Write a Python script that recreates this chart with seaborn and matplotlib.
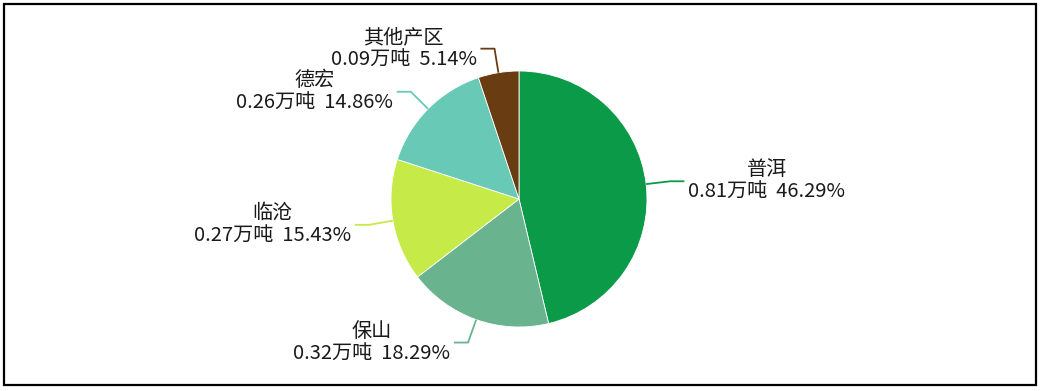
import numpy as np
import matplotlib
matplotlib.use("Agg")
import matplotlib.pyplot as plt
import seaborn as sns
from matplotlib.patches import Rectangle

sns.set_theme(style="white")
plt.rcParams['font.family'] = ['Noto Sans CJK SC', 'DejaVu Sans']

regions = ["普洱", "保山", "临沧", "德宏", "其他产区"]
tons = [0.81, 0.32, 0.27, 0.26, 0.09]          # 万吨
shares = [46.29, 18.29, 15.43, 14.86, 5.14]    # %
colors = ["#0a9a48", "#6ab38f", "#c6ea48", "#67c9b6", "#6a3c12"]

W, H = 1041, 391
fig = plt.figure(figsize=(W / 100, H / 100), dpi=100)
ax = fig.add_axes([0, 0, 1, 1])

# pie centre at pixel (519,199) with radius 128 px
R = 128.0
cx, cy = 519, 199

wedges, _ = ax.pie(shares, colors=colors, startangle=90, counterclock=False,
                   radius=1.0, center=(0, 0), frame=True,
                   wedgeprops=dict(linewidth=0.6, edgecolor='white'))
ax.set_xlim(-cx / R, (W - cx) / R)
ax.set_ylim(-(H - cy) / R, cy / R)
ax.set_aspect('equal')
ax.axis('off')

for w, name, t, s, c in zip(wedges, regions, tons, shares, colors):
    ang = np.deg2rad((w.theta1 + w.theta2) / 2)
    x0, y0 = np.cos(ang), np.sin(ang)
    x1, y1 = 1.19 * x0, 1.19 * y0
    side = 1 if x0 >= 0 else -1
    x2 = x1 + side * 0.11
    ax.plot([x0, x1, x2], [y0, y1, y1], color=c, lw=1.3, solid_capstyle='butt')
    ax.text(x2 + side * 0.03, y1, f"{name}\n{t:.2f}万吨  {s:.2f}%",
            ha='left' if side > 0 else 'right', va='center',
            multialignment='center', fontsize=14.5, color='#1a1a1a',
            linespacing=1.1)

fig.patches.append(Rectangle((4 / W, 6 / H), 1032 / W, 381 / H,
                             transform=fig.transFigure, fill=False,
                             edgecolor='black', linewidth=1.6))

fig.savefig("out.png", dpi=100)
